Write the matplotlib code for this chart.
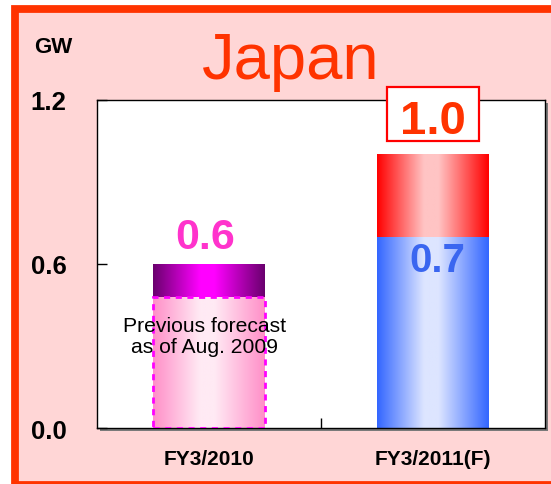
import numpy as np
import matplotlib.pyplot as plt
from matplotlib.colors import LinearSegmentedColormap
from matplotlib.patches import Rectangle

plt.rcParams['font.family'] = ['Liberation Sans', 'DejaVu Sans']

# data (GW)
categories = ["FY3/2010", "FY3/2011(F)"]
base_values = [0.48, 0.70]     # previous forecast (Aug. 2009) / FY3/2011 lower part
top_values = [0.12, 0.30]      # increment on top
totals = [0.6, 1.0]
lower_label = 0.7
y_ticks = [0.0, 0.6, 1.2]
y_ticklabels = ["0.0", "0.6", "1.2"]

# colours: (edge, centre) of each horizontal gradient
base_grads = [("#FF8FC8", "#FFEAF4"), ("#3366FF", "#DDE5FF")]
top_grads = [("#6A006E", "#FF00FF"), ("#FF0000", "#FFC4C4")]

W, H = 551, 485
fig = plt.figure(figsize=(W / 100, H / 100), dpi=100, facecolor="white")

# pink panel with red frame
frame = Rectangle((14.5 / W, -0.5 / H), 1.2, (485 - 10 + 0.5) / H,
                  transform=fig.transFigure, facecolor="#FFD6D6",
                  edgecolor="#FF3300", linewidth=5.6, zorder=-2)
fig.patches.append(frame)

ax_l, ax_b, ax_w, ax_h = 97 / W, (H - 429.3) / H, 448 / W, 328.6 / H
shadow = Rectangle((ax_l + 3 / W, ax_b - 3 / H), ax_w, ax_h,
                   transform=fig.transFigure, facecolor="#7A7A7A",
                   edgecolor="none", zorder=-1)
fig.patches.append(shadow)

ax = fig.add_axes([ax_l, ax_b, ax_w, ax_h])
ax.set_zorder(1)
ax.set_facecolor("white")
for s in ax.spines.values():
    s.set_linewidth(1.0)
    s.set_color("black")

x = np.arange(len(categories))
bw = 0.5


def grad_fill(bars, grads, z):
    for rect, (edge, mid) in zip(bars, grads):
        cmap = LinearSegmentedColormap.from_list(
            "g", [(0, edge), (0.42, mid), (0.55, mid), (1, edge)])
        g = np.linspace(0, 1, 256).reshape(1, -1)
        x0, y0 = rect.get_x(), rect.get_y()
        ax.imshow(g, cmap=cmap, aspect="auto", zorder=z,
                  extent=[x0, x0 + rect.get_width(), y0, y0 + rect.get_height()])


bars_base = ax.bar(x, base_values, bw, color="none", zorder=2)
bars_top = ax.bar(x, top_values, bw, bottom=base_values, color="none", zorder=2)
grad_fill(bars_base, base_grads, 2)
grad_fill(bars_top, top_grads, 2)

# dashed outline of the previous forecast bar
ax.bar(x[0], base_values[0], bw, facecolor="none", edgecolor="#FF00FF",
       linewidth=2.0, linestyle=(0, (2.2, 2.0)), zorder=3)

ax.set_xlim(-0.5, 1.5)
ax.set_ylim(0, 1.2)

ax.set_yticks(y_ticks)
ax.set_yticklabels(y_ticklabels, fontsize=18.5, fontweight="bold")
ax.tick_params(axis="y", direction="in", length=7, pad=22, width=1)

ax.set_xticks([0.5])
ax.set_xticklabels([""])
ax.set_xticks(x, minor=True)
ax.set_xticklabels(categories, minor=True, fontsize=15, fontweight="bold")
ax.tick_params(axis="x", which="major", direction="in", length=7, width=1)
ax.tick_params(axis="x", which="minor", length=0, pad=15)

# value labels
ax.annotate(f"{totals[0]:.1f}", xy=(x[0], totals[0]), xytext=(-2.5, 11.5),
            textcoords="offset points", ha="center", va="baseline",
            fontsize=31, fontweight="bold", color="#FF33CC", zorder=5)
ax.annotate(f"{lower_label:.1f}", xy=(x[1], base_values[1]), xytext=(3, -3),
            textcoords="offset points", ha="center", va="top",
            fontsize=29, fontweight="bold", color="#3A66F0", zorder=5)
ax.annotate(f"{totals[1]:.1f}", xy=(x[1], totals[1]), xytext=(0, 15.6),
            textcoords="offset points", ha="center", va="baseline",
            fontsize=34, fontweight="bold", color="#FF3300", zorder=6,
            annotation_clip=False)
ax.add_patch(Rectangle((x[1] - 0.207, totals[1] + 0.050), 0.411, 0.1965,
                       facecolor="white", edgecolor="#FF0000", linewidth=1.6,
                       zorder=5, clip_on=False))

ax.text(x[0] - 0.02, 0.337, "Previous forecast\nas of Aug. 2009", ha="center",
        va="center", fontsize=15.2, color="black", linespacing=1.15, zorder=5)

fig.text(291 / W, (H - 79) / H, "Japan", ha="center", va="baseline",
         fontsize=47, color="#FF3300")
fig.text(53 / W, (H - 47.5) / H, "GW", ha="center", va="center",
         fontsize=16, fontweight="bold")

fig.savefig("out.png", dpi=100, facecolor="white")
